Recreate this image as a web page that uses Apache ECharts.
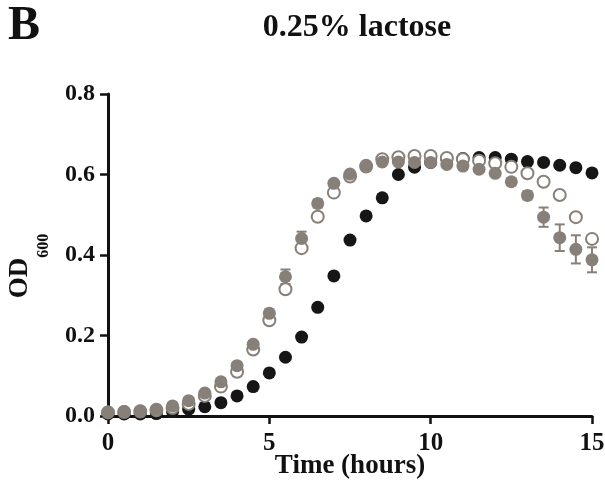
<!DOCTYPE html>
<html>
<head>
<meta charset="utf-8">
<script src="https://cdn.jsdelivr.net/npm/echarts@6/dist/echarts.min.js"></script>
<style>html,body{margin:0;padding:0;background:#fff;}#c{width:605px;height:481px;}</style>
</head>
<body>
<div id="c"></div>
<script>
var hours = [0,0.5,1,1.5,2,2.5,3,3.5,4,4.5,5,5.5,6,6.5,7,7.5,8,8.5,9,9.5,10,10.5,11,11.5,12,12.5,13,13.5,14,14.5,15];
var blackSeries = [0.005,0.005,0.005,0.006,0.011,0.017,0.023,0.033,0.050,0.073,0.107,0.146,0.196,0.270,0.348,0.437,0.497,0.542,0.600,0.618,0.630,0.640,0.640,0.642,0.642,0.638,0.632,0.630,0.623,0.617,0.604];
var grayFilled = [0.010,0.011,0.013,0.017,0.025,0.038,0.057,0.085,0.125,0.178,0.255,0.346,0.441,0.528,0.578,0.601,0.623,0.631,0.631,0.630,0.630,0.625,0.621,0.613,0.603,0.582,0.548,0.494,0.443,0.414,0.388];
var grayErr = [0.004,0.004,0.004,0.004,0.004,0.004,0.005,0.005,0.006,0.008,0.010,0.018,0.017,0.010,0.008,0.006,0.005,0.005,0.005,0.005,0.005,0.005,0.005,0.006,0.006,0.008,0.010,0.024,0.033,0.035,0.031];
var openCircle = [0.009,0.010,0.011,0.014,0.020,0.030,0.050,0.073,0.110,0.165,0.238,0.315,0.417,0.495,0.555,0.595,0.620,0.638,0.643,0.646,0.646,0.641,0.638,0.634,0.628,0.619,0.603,0.582,0.549,0.494,0.440];
var xTicks = [0,5,10,15];
var yTicks = [0.0,0.2,0.4,0.6,0.8];

var FONT = 'Liberation Serif';
var BLACK = '#161616';
var GRAY = '#878079';

function pairs(vals){ return hours.map(function(h,i){ return [h, vals[i]]; }); }
var errData = hours.map(function(h,i){ return [h, grayFilled[i], grayErr[i]]; });

var chart = echarts.init(document.getElementById('c'), null, {renderer:'canvas'});
chart.setOption({
  animation:false,
  backgroundColor:'#fff',
  grid:{left:108, right:13, top:94, bottom:65, containLabel:false, outerBoundsMode:'none'},
  xAxis:{
    type:'value', min:0, max:15, interval:5,
    name:'Time (hours)', nameLocation:'middle', nameGap:37, nameMoveOverlap:false,
    nameTextStyle:{fontFamily:FONT, fontWeight:'bold', fontSize:27, color:'#111'},
    axisLine:{show:true, onZero:false, lineStyle:{color:'#111', width:3}},
    axisTick:{show:true, length:8, lineStyle:{color:'#111', width:2.5}},
    axisLabel:{margin:15, fontFamily:FONT, fontWeight:'bold', fontSize:25, color:'#111', hideOverlap:false,
      formatter:function(v){ return xTicks.indexOf(v) >= 0 ? String(v) : ''; }},
    splitLine:{show:false}
  },
  yAxis:{
    type:'value', min:0, max:0.8, interval:0.2,
    axisLine:{show:true, onZero:false, lineStyle:{color:'#111', width:3}},
    axisTick:{show:true, length:8, lineStyle:{color:'#111', width:2.5}},
    axisLabel:{margin:13, fontFamily:FONT, fontWeight:'bold', fontSize:24, color:'#111',
      formatter:function(v){ var t = yTicks.find(function(k){return Math.abs(k-v)<1e-9;}); return t===undefined?'':t.toFixed(1); }},
    splitLine:{show:false}
  },
  graphic:[
    {type:'text', x:8, y:27, style:{text:'B', fontFamily:FONT, fontWeight:'bold', fontSize:48, fill:'#111', verticalAlign:'middle'}},
    {type:'text', x:357, y:28, style:{text:'0.25% lactose', fontFamily:FONT, fontWeight:'bold', fontSize:32, fill:'#111', align:'center', verticalAlign:'middle'}},
    {type:'text', x:29, y:266, rotation:Math.PI/2, style:{
      text:'{a|OD}{b|600}', align:'center', verticalAlign:'middle',
      rich:{
        a:{fontFamily:FONT, fontWeight:'bold', fontSize:27, fill:'#111', lineHeight:30, verticalAlign:'top'},
        b:{fontFamily:FONT, fontWeight:'bold', fontSize:16, fill:'#111', lineHeight:45, verticalAlign:'bottom'}
      }}}
  ],
  series:[
    {type:'scatter', name:'black', data:pairs(blackSeries), symbol:'circle', symbolSize:13, clip:false,
      itemStyle:{color:BLACK, opacity:1}},
    {type:'scatter', name:'open', data:pairs(openCircle), symbol:'circle', symbolSize:12, clip:false,
      itemStyle:{color:'#fff', borderColor:GRAY, borderWidth:2, opacity:1}},
    {type:'custom', name:'err', data:errData, clip:false,
      renderItem:function(params, api){
        var x = api.value(0), y = api.value(1), e = api.value(2);
        var top = api.coord([x, y+e]), bot = api.coord([x, y-e]);
        var cw = 5;
        var st = {stroke:GRAY, lineWidth:2};
        return {type:'group', children:[
          {type:'line', shape:{x1:top[0], y1:top[1], x2:bot[0], y2:bot[1]}, style:st},
          {type:'line', shape:{x1:top[0]-cw, y1:top[1], x2:top[0]+cw, y2:top[1]}, style:st},
          {type:'line', shape:{x1:bot[0]-cw, y1:bot[1], x2:bot[0]+cw, y2:bot[1]}, style:st}
        ]};
      }},
    {type:'scatter', name:'gray', data:pairs(grayFilled), symbol:'circle', symbolSize:13, clip:false,
      itemStyle:{color:GRAY, opacity:1}}
  ]
});
</script>
</body>
</html>
